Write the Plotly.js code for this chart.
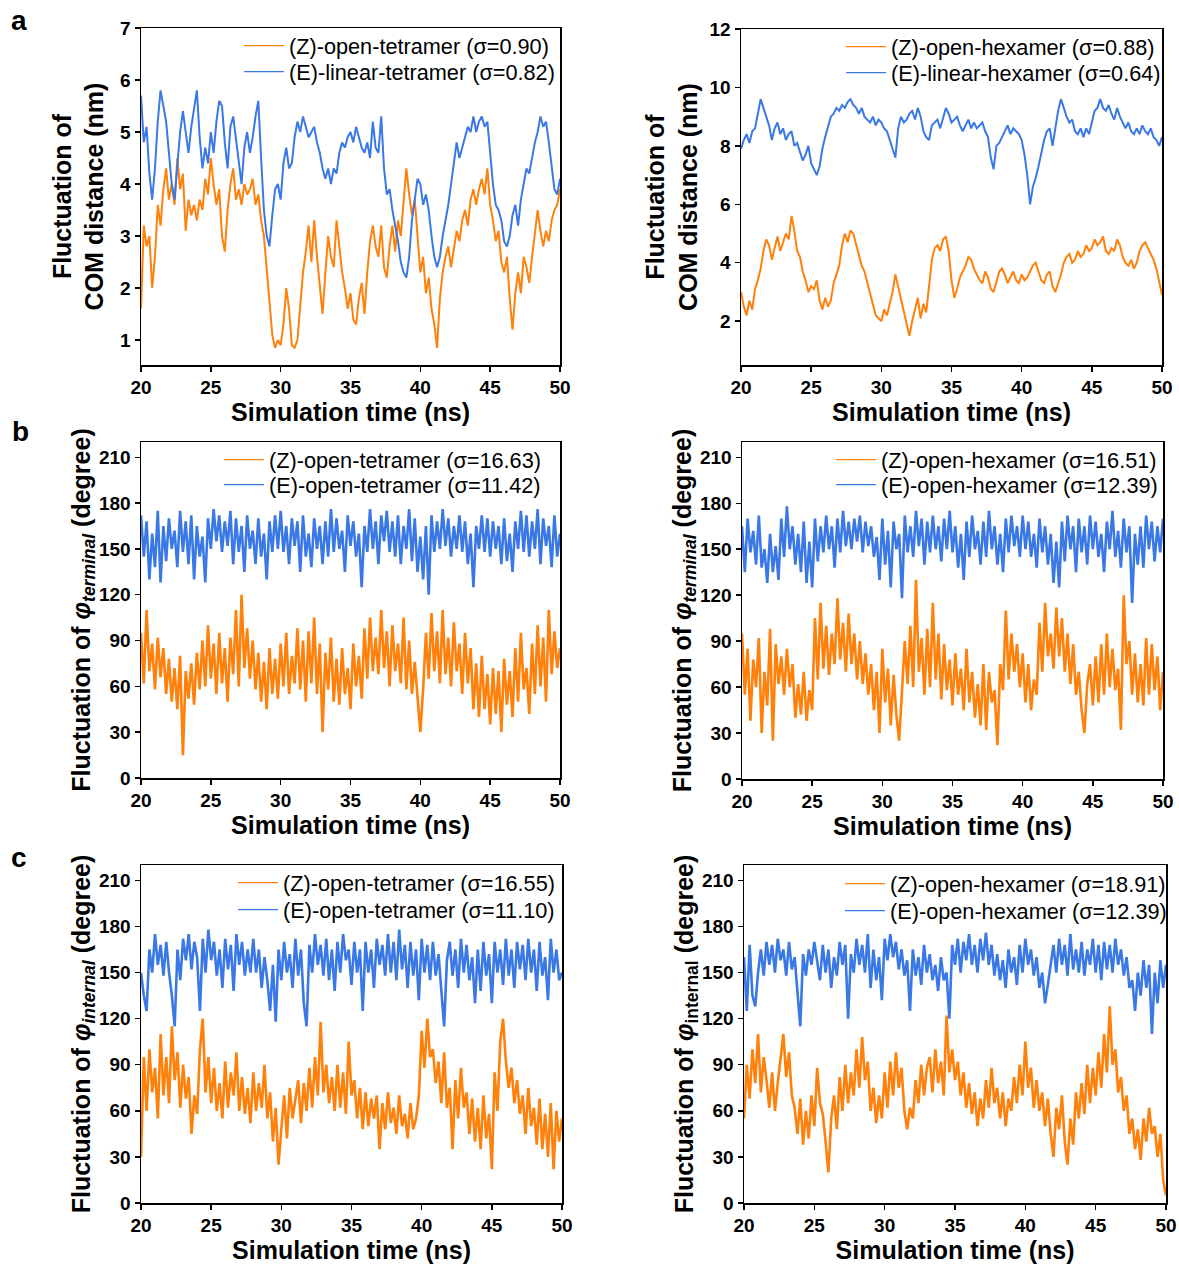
<!DOCTYPE html>
<html>
<head>
<meta charset="utf-8">
<script src="https://cdn.plot.ly/plotly-3.0.1.min.js"></script>
<style>html,body{margin:0;padding:0;background:#fff;}#chart{width:1179px;height:1267px;}</style>
</head>
<body>
<div id="chart"></div>
<script>
// ---- time axis (ns) ----
const TIME_START = 20;
const TIME_STEP = 0.2;
const timeTicks = [20, 25, 30, 35, 40, 45, 50];

// ---- panel a: COM distance (nm) ----
const comTetraZ = [
1.6,3.2,2.8,3.0,2.0,2.6,3.6,3.2,3.9,4.3,
3.7,4.0,3.6,4.5,3.9,4.2,3.1,3.7,3.4,3.6,
3.3,3.7,3.5,4.1,3.8,4.5,4.0,3.6,3.9,3.0,
2.7,3.5,4.0,4.3,3.7,3.9,3.6,4.0,3.8,3.9,
4.1,3.6,3.8,3.3,3.0,2.4,1.7,1.1,0.85,1.0,
0.9,1.3,2.0,1.6,0.9,0.85,1.0,1.7,2.3,2.7,
3.2,2.5,3.3,2.6,2.1,1.5,2.3,3.0,2.6,2.4,
3.3,2.8,2.3,2.0,1.6,1.9,1.4,1.3,1.8,2.1,
1.5,2.3,2.9,3.2,2.8,2.6,3.2,2.4,2.2,2.8,
3.2,2.7,3.3,3.0,3.6,4.3,3.8,3.4,3.7,2.9,
2.3,2.6,1.9,2.2,1.6,1.3,0.85,1.8,2.3,2.6,
2.8,2.4,2.8,3.1,2.9,3.3,3.5,3.2,3.7,3.9,
3.6,3.9,4.1,3.8,4.3,3.6,3.3,2.9,3.1,2.5,
2.3,2.6,1.8,1.2,1.9,2.3,1.9,2.6,2.4,2.1,
2.6,3.0,3.5,3.1,2.8,3.1,2.9,3.3,3.5,3.6,
3.9];
const comTetraE = [
5.7,4.8,5.1,4.2,3.7,4.3,5.2,5.8,5.5,5.2,
4.6,4.0,3.7,4.4,5.0,5.4,5.0,4.6,5.1,5.5,
5.8,4.9,4.3,4.7,4.4,5.0,4.6,5.2,5.6,5.5,
4.8,4.3,5.1,5.3,4.9,4.5,4.0,4.7,5.0,4.6,
4.9,5.3,5.6,4.5,3.5,3.0,2.8,3.4,3.9,4.0,
3.7,4.4,4.7,4.3,4.4,4.9,5.2,5.0,5.3,5.1,
4.9,5.0,5.1,4.8,4.6,4.3,4.1,4.3,4.0,4.3,
4.2,4.6,4.8,4.7,4.9,5.0,4.8,5.1,4.9,4.7,
4.6,4.8,4.5,5.2,4.7,4.6,5.3,4.3,3.8,3.9,
3.5,3.2,2.9,2.5,2.3,2.2,2.6,3.3,3.7,4.1,
4.0,3.6,3.8,3.5,3.0,2.6,2.4,2.6,3.0,3.3,
3.6,4.0,4.4,4.8,4.5,4.7,4.9,5.1,5.0,5.3,
5.0,5.2,5.3,5.1,5.2,4.6,4.0,3.6,3.5,3.3,
2.9,2.8,3.0,3.4,3.6,3.2,3.7,4.0,4.3,4.2,
4.5,4.8,5.0,5.3,5.1,5.2,4.8,4.3,3.9,3.8,
4.1];
const comHexaZ = [
3.0,2.5,2.2,2.7,2.4,3.1,3.4,3.8,4.4,4.8,
4.6,4.1,4.5,4.9,4.4,4.7,5.0,4.8,5.6,5.1,
4.4,4.2,3.7,3.4,3.0,3.2,3.1,3.4,2.7,2.4,
2.8,2.5,2.7,3.3,3.6,3.9,4.6,5.0,4.7,5.1,
5.0,4.6,4.3,3.9,3.7,3.3,2.9,2.6,2.2,2.1,
2.0,2.4,2.2,2.6,3.0,3.6,3.2,2.7,2.4,2.0,
1.5,2.0,2.4,2.8,2.1,2.6,2.3,3.3,4.1,4.5,
4.6,4.4,4.8,4.9,4.4,3.4,2.8,3.1,3.5,3.7,
3.9,4.2,4.1,3.8,3.6,3.4,3.3,3.7,3.5,3.1,
3.0,3.4,3.7,3.8,3.6,3.3,3.5,3.7,3.4,3.3,
3.6,3.4,3.5,3.7,3.9,4.0,3.7,3.4,3.3,3.6,
3.7,3.2,3.0,3.3,3.6,4.0,4.2,4.3,4.0,4.1,
4.4,4.2,4.3,4.6,4.4,4.5,4.8,4.6,4.7,4.9,
4.4,4.3,4.5,4.4,4.8,4.6,4.2,4.0,3.9,4.1,
3.8,4.0,4.4,4.6,4.7,4.5,4.3,4.1,3.8,3.4,
2.9];
const comHexaE = [
7.9,8.2,8.4,8.1,8.5,8.6,9.1,9.6,9.3,9.0,
8.7,8.2,8.6,8.8,8.4,8.6,8.2,8.4,8.5,8.0,
8.1,7.8,7.5,7.7,8.0,7.4,7.2,7.0,7.3,7.9,
8.3,8.7,9.0,9.1,9.3,9.2,9.4,9.3,9.5,9.6,
9.4,9.3,9.1,9.3,9.0,8.9,8.8,9.0,8.7,8.9,
8.8,8.6,8.5,8.2,7.9,7.6,8.6,9.0,8.8,8.9,
9.1,9.2,8.9,9.3,9.0,8.5,8.3,8.2,8.7,8.8,
8.9,8.6,9.0,9.3,9.1,8.8,8.9,9.0,8.7,8.5,
8.7,8.9,8.6,8.8,8.6,8.7,8.8,8.5,8.3,7.6,
7.2,8.0,8.1,8.3,8.5,8.7,8.4,8.6,8.5,8.4,
8.2,7.7,7.0,6.0,6.6,6.9,7.3,7.8,8.2,8.5,
8.6,8.0,8.6,9.2,9.6,9.3,9.0,8.8,8.9,8.5,
8.4,8.6,8.3,8.6,8.4,8.8,9.2,9.3,9.6,9.3,
9.2,9.4,9.1,8.9,9.3,9.0,8.8,8.6,8.8,8.5,
8.4,8.6,8.4,8.7,8.5,8.4,8.6,8.3,8.2,8.0,
8.3];

// ---- panel b: terminal dihedral (degree) ----
const termTetraZ = [
95,62,110,70,88,58,92,66,85,55,
78,50,72,45,80,15,70,52,75,48,
82,58,90,60,100,65,88,55,95,62,
85,50,92,68,110,60,120,72,98,65,
90,58,82,50,76,45,85,55,78,52,
88,60,95,55,80,62,98,58,90,50,
96,62,105,55,88,30,82,58,92,50,
78,48,85,55,72,45,88,60,80,52,
98,65,105,70,92,68,110,72,96,60,
100,70,88,62,105,58,90,55,76,50,
30,58,95,65,108,70,96,62,110,68,
92,60,102,70,88,55,95,62,85,45,
75,40,80,45,68,35,72,42,70,30,
78,48,70,40,85,50,95,58,72,42,
88,55,100,60,92,50,110,68,96,72,
85];
const termTetraE = [
172,145,168,130,160,138,175,128,165,142,
170,150,162,138,175,148,168,140,172,130,
165,145,158,128,170,150,176,155,172,148,
168,152,175,140,170,148,165,135,172,150,
162,140,170,145,160,130,168,148,172,150,
175,148,165,140,170,152,168,135,172,145,
160,138,170,150,165,140,168,145,176,148,
170,150,162,135,172,152,168,145,160,125,
165,148,176,150,168,140,172,155,175,148,
168,145,172,140,165,150,176,142,170,135,
158,130,165,120,172,148,168,150,176,152,
170,145,165,150,172,148,168,140,160,125,
165,150,172,148,170,145,168,150,165,140,
170,142,160,135,168,150,175,148,172,145,
168,150,176,140,170,152,165,138,172,145,
160];
const termHexaZ = [
95,55,85,38,78,60,92,30,70,48,
98,25,88,62,80,55,85,60,75,40,
62,42,70,38,58,45,105,65,115,72,
100,68,95,75,118,78,102,70,108,75,
95,65,90,62,82,55,75,45,70,30,
85,50,72,35,68,42,25,55,90,62,
100,60,130,70,92,55,98,60,115,65,
95,52,88,58,78,48,82,55,72,45,
85,50,70,40,62,35,75,32,70,50,
58,22,75,58,110,65,95,70,88,60,
82,50,75,45,65,55,102,70,115,80,
95,72,112,80,105,70,95,62,88,55,
70,45,30,62,75,48,80,50,88,55,
95,60,85,58,72,32,120,75,90,55,
82,50,75,48,92,55,88,58,80,45,
70];
const termHexaE = [
165,135,170,148,162,140,172,138,150,128,
160,135,152,130,170,145,178,150,165,140,
160,135,168,128,155,125,170,142,165,148,
172,150,165,138,170,148,175,152,168,150,
170,155,172,148,168,152,165,145,158,130,
170,140,162,125,168,150,160,118,172,148,
165,145,175,152,170,140,168,148,172,150,
165,142,170,150,175,148,165,138,160,130,
168,145,172,150,162,140,168,145,175,150,
165,140,160,135,170,148,172,152,165,145,
172,150,168,145,160,138,170,148,165,140,
160,128,155,125,168,142,172,150,165,135,
170,148,165,140,172,150,168,145,160,135,
168,150,175,145,162,138,170,148,165,115,
160,140,165,138,172,150,168,142,165,148,
170];

// ---- panel c: internal dihedral (degree) ----
const intTetraZ = [
30,95,60,100,72,88,55,110,70,95,
65,115,80,98,62,90,68,82,45,70,
58,100,120,72,95,65,88,60,78,55,
92,62,85,70,98,60,82,58,75,52,
85,60,78,62,90,55,72,40,62,25,
48,70,42,75,55,68,80,52,78,60,
88,62,95,70,118,72,90,65,82,60,
90,62,85,58,105,70,80,55,75,48,
72,50,68,55,70,35,65,48,72,52,
62,45,70,50,58,42,65,48,55,70,
112,88,120,95,100,78,92,65,98,62,
75,35,80,55,88,62,72,45,68,40,
62,35,70,42,58,22,85,60,105,120,
92,75,88,65,80,58,70,45,75,50,
62,38,68,35,58,30,65,22,60,40,
55];
const intTetraE = [
150,135,125,165,150,175,155,168,148,170,
150,135,115,165,145,172,158,175,152,170,
160,125,172,150,178,158,170,148,165,140,
172,152,168,138,175,155,170,148,165,150,
172,150,165,140,160,145,125,155,118,165,
145,170,150,162,140,172,148,165,130,115,
168,150,175,155,168,148,172,145,165,138,
170,150,175,158,165,142,170,150,165,125,
170,150,165,140,172,155,168,148,175,150,
170,145,178,152,168,140,170,148,165,132,
172,150,168,145,170,148,162,138,115,158,
170,148,165,140,172,150,168,145,160,130,
165,138,170,148,162,130,170,150,165,142,
172,148,165,140,170,152,168,145,172,150,
165,138,170,148,160,132,172,150,165,145,
150];
const intHexaZ = [
55,90,68,100,78,110,72,95,80,62,
85,60,78,95,110,82,98,70,62,45,
68,38,60,42,70,50,88,65,58,40,
20,55,70,48,82,60,90,65,85,70,
100,75,108,80,92,60,75,52,70,55,
85,62,92,70,98,75,88,60,48,62,
55,80,65,90,70,88,95,72,100,78,
92,70,122,85,100,80,92,70,85,62,
78,58,72,50,68,55,80,62,88,65,
75,55,72,50,68,60,82,65,90,70,
105,75,88,62,80,60,72,50,68,45,
30,62,48,70,40,25,55,38,72,55,
78,58,90,65,88,70,98,75,110,85,
128,90,100,72,82,60,70,45,55,35,
48,28,55,40,62,45,50,30,45,15,
5];
const intHexaE = [
160,125,168,135,128,150,165,148,170,155,
168,150,172,158,165,148,170,152,160,140,
115,162,148,165,155,170,158,145,168,150,
165,140,160,148,170,155,168,120,162,150,
172,155,168,150,175,140,165,145,160,132,
172,158,175,160,170,152,165,148,158,125,
165,148,160,142,168,150,162,145,155,138,
160,145,150,120,168,155,172,150,170,158,
175,155,168,150,172,158,176,155,168,148,
162,145,158,140,165,150,160,142,168,150,
172,155,165,148,160,140,150,130,142,155,
168,150,172,155,168,148,175,152,165,150,
170,148,165,155,172,150,168,145,170,152,
168,150,172,155,165,148,160,140,145,125,
150,135,158,140,155,110,150,130,158,140,
155];

// ---- legend labels ----
const labelsA = ['(Z)-open-tetramer (σ=0.90)', '(E)-linear-tetramer (σ=0.82)'];
const labelsB = ['(Z)-open-hexamer (σ=0.88)', '(E)-linear-hexamer (σ=0.64)'];
const labelsC = ['(Z)-open-tetramer (σ=16.63)', '(E)-open-tetramer (σ=11.42)'];
const labelsD = ['(Z)-open-hexamer (σ=16.51)', '(E)-open-hexamer (σ=12.39)'];
const labelsE = ['(Z)-open-tetramer (σ=16.55)', '(E)-open-tetramer (σ=11.10)'];
const labelsF = ['(Z)-open-hexamer (σ=18.91)', '(E)-open-hexamer (σ=12.39)'];

// ---- styling / layout ----
const ORANGE = 'rgb(255,128,10)';
const BLUE = 'rgb(58,120,230)';
const FONT = 'Arial, "Liberation Sans", sans-serif';
const W = 1179, H = 1267;
const xd = (a, b) => [a / W, b / W];
const yd = (top, bottom) => [1 - bottom / H, 1 - top / H];

const panels = [
  {z: comTetraZ, e: comTetraE, labels: labelsA, xdom: xd(141,560), ydom: yd(28,365), yr: [0.52,7], yt: [1,2,3,4,5,6,7],
   ytitle: 'Fluctuation of<br>COM distance (nm)', standoff: 9, lw: 2.0, leg: {x: 289, y1: 46, y2: 72}},
  {z: comHexaZ, e: comHexaE, labels: labelsB, xdom: xd(741,1162), ydom: yd(29,365), yr: [0.5,12], yt: [2,4,6,8,10,12],
   ytitle: 'Fluctuation of<br>COM distance (nm)', standoff: 5, lw: 2.0, leg: {x: 891, y1: 47, y2: 73}},
  {z: termTetraZ, e: termTetraE, labels: labelsC, xdom: xd(141,560), ydom: yd(442,778), yr: [0,220], yt: [0,30,60,90,120,150,180,210],
   ytitle: 'Fluctuation of <i>φ</i><sub><i>terminal</i></sub> (degree)', standoff: 0, lw: 2.6, leg: {x: 269, y1: 460, y2: 485}},
  {z: termHexaZ, e: termHexaE, labels: labelsD, xdom: xd(742,1163), ydom: yd(442,779), yr: [0,220], yt: [0,30,60,90,120,150,180,210],
   ytitle: 'Fluctuation of <i>φ</i><sub><i>terminal</i></sub> (degree)', standoff: 1, lw: 2.6, leg: {x: 881, y1: 460, y2: 485}},
  {z: intTetraZ, e: intTetraE, labels: labelsE, xdom: xd(141,562), ydom: yd(865,1203), yr: [0,220], yt: [0,30,60,90,120,150,180,210],
   ytitle: 'Fluctuation of <i>φ</i><sub><i>internal</i></sub> (degree)', standoff: 0, lw: 2.6, leg: {x: 283, y1: 883, y2: 910}},
  {z: intHexaZ, e: intHexaE, labels: labelsF, xdom: xd(744,1166), ydom: yd(865,1203), yr: [0,220], yt: [0,30,60,90,120,150,180,210],
   ytitle: 'Fluctuation of <i>φ</i><sub>internal</sub> (degree)', standoff: 1, lw: 2.6, leg: {x: 890, y1: 884, y2: 911}}
];

const traces = [];
const letterFont = {family: FONT, size: 28, weight: 'bold', color: '#000'};
const layout = {
  width: W, height: H,
  margin: {l: 0, r: 0, t: 0, b: 0},
  paper_bgcolor: '#fff', plot_bgcolor: '#fff',
  font: {family: FONT, color: '#000'},
  hovermode: false,
  annotations: [
    {text: 'a', x: 19 / W, y: 1 - 20 / H, xref: 'paper', yref: 'paper', xanchor: 'center', yanchor: 'middle', showarrow: false, font: letterFont},
    {text: 'b', x: 20 / W, y: 1 - 432 / H, xref: 'paper', yref: 'paper', xanchor: 'center', yanchor: 'middle', showarrow: false, font: letterFont},
    {text: 'c', x: 19 / W, y: 1 - 857 / H, xref: 'paper', yref: 'paper', xanchor: 'center', yanchor: 'middle', showarrow: false, font: letterFont}
  ]
};

const LEG_TEXT_OFFSET = 50; // legend box left edge -> text start
let legIndex = 0;
function addLegend(textX, rowY) {
  legIndex += 1;
  const name = legIndex === 1 ? 'legend' : 'legend' + legIndex;
  layout[name] = {x: (textX - LEG_TEXT_OFFSET) / W, y: 1 - rowY / H, xanchor: 'left', yanchor: 'middle',
    bgcolor: 'rgba(0,0,0,0)', borderwidth: 0, font: {family: FONT, size: 21.7, color: '#000'}, itemwidth: 40};
  return name;
}

panels.forEach((p, i) => {
  const n = i + 1;
  const sx = n === 1 ? '' : String(n);
  const common = {type: 'scatter', mode: 'lines', x0: TIME_START, dx: TIME_STEP,
    xaxis: 'x' + sx, yaxis: 'y' + sx};
  // data traces (no legend entry)
  traces.push(Object.assign({}, common, {y: p.z, name: p.labels[0], line: {color: ORANGE, width: p.lw}, showlegend: false}));
  traces.push(Object.assign({}, common, {y: p.e, name: p.labels[1], line: {color: BLUE, width: p.lw}, showlegend: false}));
  // legend entries with thin sample lines (no drawable points)
  traces.push({type: 'scatter', mode: 'lines', x: [null], y: [null], xaxis: 'x' + sx, yaxis: 'y' + sx,
    name: p.labels[0], line: {color: ORANGE, width: 1.2}, showlegend: true, legend: addLegend(p.leg.x, p.leg.y1)});
  traces.push({type: 'scatter', mode: 'lines', x: [null], y: [null], xaxis: 'x' + sx, yaxis: 'y' + sx,
    name: p.labels[1], line: {color: BLUE, width: 1.2}, showlegend: true, legend: addLegend(p.leg.x, p.leg.y2)});
  const axisBase = {showline: true, linecolor: '#000', linewidth: 1.5, mirror: true, ticks: 'outside',
    ticklen: 5, tickwidth: 1.5, tickcolor: '#000', showgrid: false, zeroline: false,
    tickfont: {family: FONT, size: 19, weight: 'bold', color: '#000'}};
  layout['xaxis' + sx] = Object.assign({}, axisBase, {domain: p.xdom, anchor: 'y' + sx, range: [20, 50],
    tickvals: timeTicks, title: {text: 'Simulation time (ns)', standoff: 3, font: {family: FONT, size: 25, weight: 'bold'}}});
  layout['yaxis' + sx] = Object.assign({}, axisBase, {domain: p.ydom, anchor: 'x' + sx, range: p.yr,
    tickvals: p.yt, title: {text: p.ytitle, standoff: p.standoff, font: {family: FONT, size: 25, weight: 'bold'}}});
});

Plotly.newPlot('chart', traces, layout, {staticPlot: true, displayModeBar: false});
</script>
</body>
</html>
